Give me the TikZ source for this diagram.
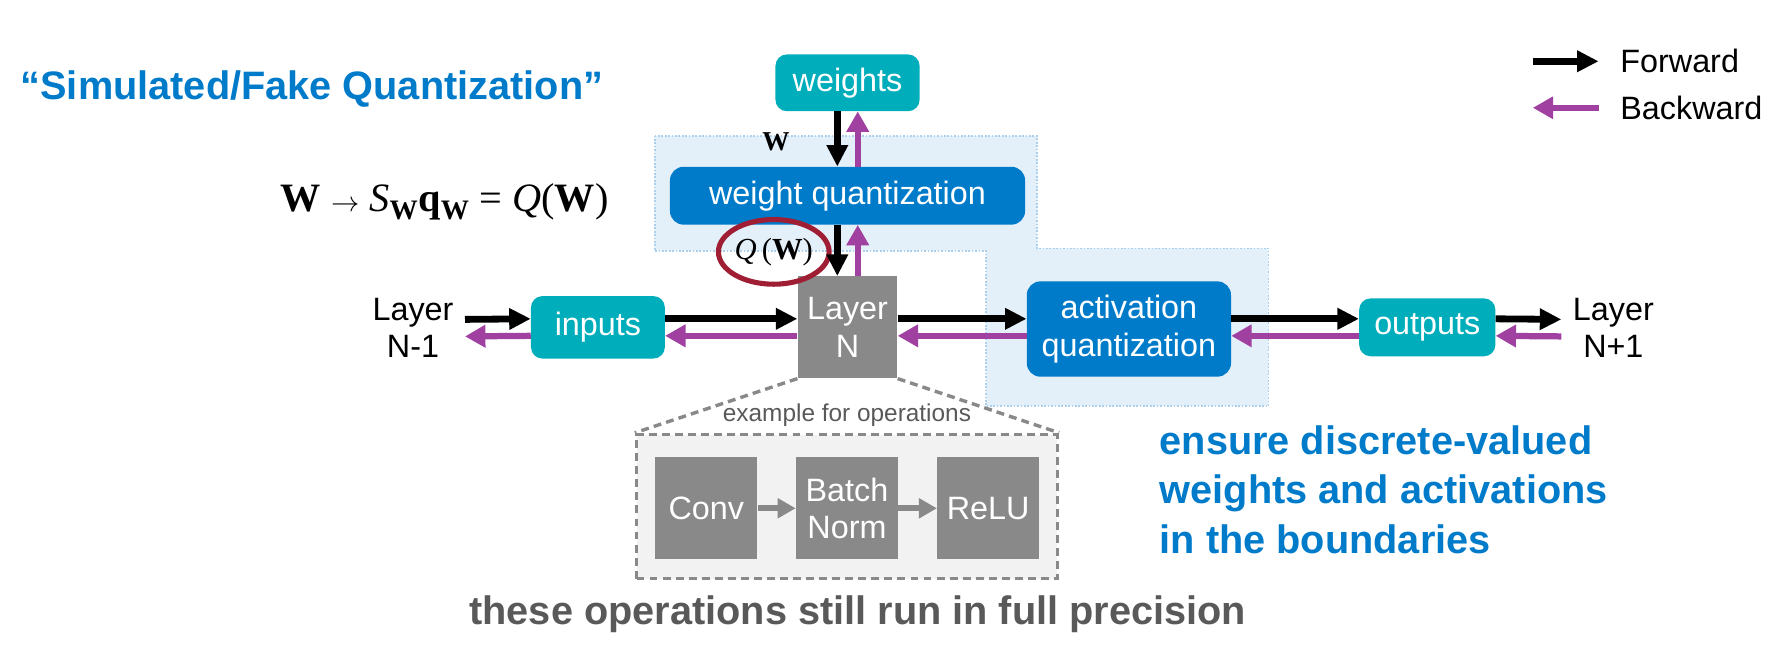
\documentclass[tikz,border=0pt]{standalone}
\usepackage{fontspec}
\setmainfont{Liberation Sans}
\newfontfamily\serf{Liberation Serif}
\usepackage{tikz}
\usetikzlibrary{arrows.meta,calc,positioning,shapes.geometric}
\definecolor{tl}{RGB}{0,173,187}
\definecolor{qb}{RGB}{0,123,202}
\definecolor{purp}{RGB}{160,64,160}
\definecolor{lg}{RGB}{137,137,137}
\definecolor{ov}{RGB}{160,30,52}
\definecolor{regfill}{RGB}{227,240,250}
\definecolor{regdraw}{RGB}{172,207,236}
\definecolor{opsfill}{RGB}{242,242,242}
\definecolor{tg}{RGB}{89,89,89}

\begin{document}
\begin{tikzpicture}[x=1pt,y=-1pt,
  box/.style={rounded corners=10pt,text=white,align=center,inner sep=0pt,font=\fontsize{28.5}{33}\selectfont},
  gbox/.style={fill=lg,text=white,align=center,inner sep=0pt,font=\fontsize{28.5}{33}\selectfont},
  lbl/.style={align=center,font=\fontsize{28.5}{33}\selectfont},
  big/.style={font=\bfseries\fontsize{35}{43.5}\selectfont,inner sep=0pt},
  fwd/.style={line width=6pt,-{Triangle[length=19pt,width=18pt]}},
  bwd/.style={purp,line width=5.5pt,-{Triangle[length=18pt,width=19pt]}},
  opdash/.style={draw=lg,line width=3pt,dash pattern=on 7pt off 4.5pt}]
  \useasboundingbox (0,0) rectangle (1568,568);
  % quantization boundaries
  \draw[regdraw,fill=regfill,line width=1.5pt,dash pattern=on 1.5pt off 1.5pt] (577,120) -- (914,120) -- (914,219) -- (1118,219) -- (1118,358) -- (869,358) -- (869,221) -- (577,221) -- cycle;
  \node[big,anchor=base west,text=qb] (ttl) at (18,88) {“Simulated/Fake Quantization”};
  \node[box,fill=tl,minimum width=127pt,minimum height=50pt] (wts) at (747,73) {weights};
  \node[box,fill=qb,rounded corners=12pt,minimum width=313pt,minimum height=51pt] (wq) at (747,172.5) {weight quantization};
  \node[gbox,minimum width=88pt,minimum height=90pt] (lay) at (747,288.5) {Layer\\N};
  \node[box,fill=tl,minimum width=118pt,minimum height=55pt] (inp) at (527,288.5) {inputs};
  \node[box,fill=qb,rounded corners=12pt,minimum width=180pt,minimum height=84pt] (aq) at (995,290) {activation\\quantization};
  \node[box,fill=tl,minimum width=120pt,minimum height=51pt] (outp) at (1258,288.5) {outputs};
  \node[lbl,inner xsep=10pt] (prev) at (364,289) {Layer\\N-1};
  \node[lbl,inner xsep=10pt] (next) at (1422,289) {Layer\\N+1};
  \node[font=\serf\bfseries\fontsize{24}{24}\selectfont] (wlbl) at (684,125) {W};
  \node[ellipse,draw=ov,line width=4.5pt,minimum width=86pt,minimum height=57pt,inner sep=0pt,font=\serf\fontsize{27}{27}\selectfont] (qw) at (682,222) {\textit{Q}\,(\textbf{W})};
  \node[anchor=base,font=\serf\fontsize{35.5}{35.5}\selectfont] (eq) at (392,186) {\textbf{W} $\rightarrow$ \textit{S}\textsubscript{\textbf{W}}\textbf{q}\textsubscript{\textbf{W}} = \textit{Q}(\textbf{W})};
  % forward / backward
  \draw[fwd] ([xshift=-9pt]wts.south) -- ([xshift=-9pt]wq.north);
  \draw[bwd] ([xshift=9pt]wq.north) -- ([xshift=9pt]wts.south);
  \draw[fwd] ([xshift=-9pt]wq.south) -- ([xshift=-9pt]lay.north);
  \draw[bwd] ([xshift=9pt]lay.north) -- ([xshift=9pt]wq.south);
  \draw[fwd] ([yshift=7.5pt]prev.east) -- ([yshift=7.5pt]inp.west);
  \draw[bwd] ([yshift=-7.5pt]inp.west) -- ([yshift=-7.5pt]prev.east);
  \draw[fwd] ([yshift=7.5pt]inp.east) -- ([yshift=7.5pt]lay.west);
  \draw[bwd] ([yshift=-7.5pt]lay.west) -- ([yshift=-7.5pt]inp.east);
  \draw[fwd] ([yshift=7.5pt]lay.east) -- ([yshift=7.5pt]lay.east -| aq.west);
  \draw[bwd] ([yshift=-7.5pt]lay.east -| aq.west) -- ([yshift=-7.5pt]lay.east);
  \draw[fwd] ([yshift=7.5pt]lay.east -| aq.east) -- ([yshift=7.5pt]outp.west);
  \draw[bwd] ([yshift=-7.5pt]outp.west) -- ([yshift=-7.5pt]lay.east -| aq.east);
  \draw[fwd] ([yshift=7.5pt]outp.east) -- ([yshift=7.5pt]next.west);
  \draw[bwd] ([yshift=-7.5pt]next.west) -- ([yshift=-7.5pt]outp.east);
  % legend
  \coordinate (fA) at (1351,54);
  \coordinate (fB) at (1409,54);
  \coordinate (bA) at (1351,95);
  \coordinate (bB) at (1409,95);
  \draw[fwd] (fA) -- (fB);
  \draw[bwd] (bB) -- (bA);
  \node[lbl,anchor=west,inner sep=0pt] (fwdl) at (1428,54) {Forward};
  \node[lbl,anchor=west,inner sep=0pt] (bwdl) at (1428,95) {Backward};
  % operations inside Layer N
  \node[opdash,fill=opsfill,minimum width=371pt,minimum height=127pt] (ops) at (746.5,446.5) {};
  \draw[opdash] (lay.south west) -- (ops.north west);
  \draw[opdash] (lay.south east) -- (ops.north east);
  \node[text=tg,font=\fontsize{21.5}{21.5}\selectfont] (eg) at (746.5,366) {example for operations};
  \node[gbox,minimum size=90pt] (conv) at (622.5,448) {Conv};
  \node[gbox,minimum size=90pt] (bn) at (746.5,448) {Batch\\Norm};
  \node[gbox,minimum size=90pt] (relu) at (871,448) {ReLU};
  \draw[lg,line width=5pt,-{Triangle[length=16pt,width=17pt]}] (conv) -- (bn);
  \draw[lg,line width=5pt,-{Triangle[length=16pt,width=17pt]}] (bn) -- (relu);
  \node[big,text=tg] (note) at (756,541) {these operations still run in full precision};
  \node[big,anchor=north west,align=left,text=qb] (bnd) at (1022,375) {ensure discrete-valued\\weights and activations\\in the boundaries};
\end{tikzpicture}
\end{document}
